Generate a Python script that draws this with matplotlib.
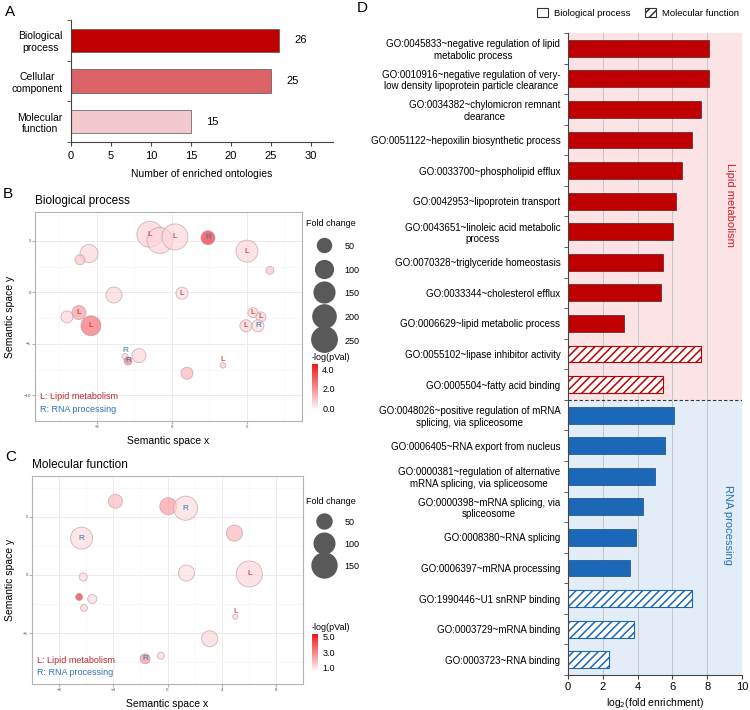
import numpy as np
import matplotlib
matplotlib.use('Agg')
import matplotlib.pyplot as plt
from matplotlib.colors import LinearSegmentedColormap, Normalize
from matplotlib.cm import ScalarMappable
from matplotlib.lines import Line2D
from matplotlib.patches import Patch

plt.rcParams['font.family'] = ['Liberation Sans', 'DejaVu Sans']
plt.rcParams['hatch.linewidth'] = 1.1

# ---- panel A data
a_cats = ['Biological\nprocess', 'Cellular\ncomponent', 'Molecular\nfunction']
a_counts = [26, 25, 15]
a_colors = ['#c00000', '#dc6469', '#f3c9cd']

# ---- panel B data (biological process bubbles)
bp_x = [-1.47, -0.8, 0.2, 2.4, -5.53, -6.13, 5.0, 6.53, -3.87, 0.67, -6.2, -7.0, -5.4,
        5.4, 5.93, 4.93, 5.73, -3.13, -2.93, -2.2, 3.4, 1.0]
bp_y = [5.64, 5.04, 5.38, 5.3, 3.76, 3.16, 4.0, 2.14, -0.26, -0.09, -1.97, -2.39, -3.25,
        -1.97, -2.39, -3.25, -3.25, -6.24, -6.67, -6.15, -7.09, -7.86]
bp_fc = [265, 265, 265, 50, 103, 16, 174, 6, 74, 31, 50, 31, 136, 16, 16, 31, 31, 1, 6, 50, 0.5, 31]
bp_logp = [0.7, 0.6, 0.6, 4.3, 0.6, 1.0, 0.6, 0.9, 0.6, 0.4, 1.9, 0.6, 2.9, 0.7, 0.7, 0.7,
           0.5, 0.6, 2.6, 0.6, 0.8, 1.3]
bp_tag = ['L', '', 'L', 'R', '', '', 'L', '', '', 'L', 'L', '', 'L', 'L', 'L', 'L', 'R',
          'R', 'R', '', 'L', '']
bp_legend = [50, 100, 150, 200, 250]

# ---- panel C data (molecular function bubbles)
mf_x = [-3.84, 0.06, 1.34, -6.34, -6.22, 1.40, -6.52, -5.55, -6.16, 3.11, -1.65, -0.49, 4.94, 6.04, 5.0]
mf_y = [6.34, 5.91, 5.74, 3.17, -0.17, 0.17, -1.89, -2.06, -2.83, -5.48, -7.2, -6.94, 3.6, 0.09, -3.6]
mf_fc = [43, 66, 138, 114, 12, 58, 8.5, 16, 8.5, 58, 20, 8.5, 58, 163, 3.6]
mf_logp = [1.9, 2.6, 1.2, 1.2, 1.2, 1.1, 5.0, 1.2, 1.4, 1.3, 2.8, 1.3, 2.0, 1.3, 1.3]
mf_tag = ['', '', 'R', 'R', '', '', '', '', '', '', 'R', '', '', 'L', 'L']
mf_legend = [50, 100, 150]

# ---- panel D data
d_terms = [
    "GO:0045833~negative regulation of lipid\nmetabolic process",
    "GO:0010916~negative regulation of very-\nlow density lipoprotein particle clearance",
    "GO:0034382~chylomicron remnant\nclearance",
    "GO:0051122~hepoxilin biosynthetic process",
    "GO:0033700~phospholipid efflux",
    "GO:0042953~lipoprotein transport",
    "GO:0043651~linoleic acid metabolic\nprocess",
    "GO:0070328~triglyceride homeostasis",
    "GO:0033344~cholesterol efflux",
    "GO:0006629~lipid metabolic process",
    "GO:0055102~lipase inhibitor activity",
    "GO:0005504~fatty acid binding",
    "GO:0048026~positive regulation of mRNA\nsplicing, via spliceosome",
    "GO:0006405~RNA export from nucleus",
    "GO:0000381~regulation of alternative\nmRNA splicing, via spliceosome",
    "GO:0000398~mRNA splicing, via\nspliceosome",
    "GO:0008380~RNA splicing",
    "GO:0006397~mRNA processing",
    "GO:1990446~U1 snRNP binding",
    "GO:0003729~mRNA binding",
    "GO:0003723~RNA binding",
]
d_vals = [8.13, 8.13, 7.65, 7.13, 6.54, 6.19, 6.02, 5.44, 5.35, 3.21, 7.63, 5.44,
          6.10, 5.60, 4.98, 4.29, 3.88, 3.54, 7.12, 3.77, 2.33]
d_group = ['Lipid metabolism'] * 12 + ['RNA processing'] * 9
d_ont = ['BP'] * 10 + ['MF'] * 2 + ['BP'] * 6 + ['MF'] * 3

RED = '#c00000'
BLUE = '#1b67b8'
TAG_COL = {'L': '#c0272d', 'R': '#2e74b5'}

fig = plt.figure(figsize=(7.5, 7.1), dpi=100)


def rect(l, t, r, b):
    return [l / 750, 1 - b / 710, (r - l) / 750, (b - t) / 710]


# ================= A
axA = fig.add_axes(rect(71, 20, 333, 142))
ya = np.arange(len(a_cats))
axA.barh(ya, a_counts, height=0.58, color=a_colors, edgecolor='#555555', linewidth=0.5)
for y, v in zip(ya, a_counts):
    axA.annotate(str(v), (v, y), xytext=(11, 0), textcoords='offset points',
                 ha='left', va='center', fontsize=8)
axA.set_xlim(0, 32.8)
axA.set_ylim(2.5, -0.5)
axA.set_yticks(ya)
axA.set_yticklabels(a_cats, fontsize=7.5)
for t in axA.get_yticklabels():
    t.set_multialignment('center')
axA.set_yticks(np.arange(-0.5, 3, 1), minor=True)
axA.tick_params(axis='y', which='major', length=0, pad=6)
axA.tick_params(axis='y', which='minor', length=3, color='#444444')
axA.set_xticks(range(0, 31, 5))
axA.tick_params(axis='x', labelsize=8, length=3, color='#444444')
for s in ['top', 'right']:
    axA.spines[s].set_visible(False)
for s in ['left', 'bottom']:
    axA.spines[s].set_color('#444444')
    axA.spines[s].set_linewidth(0.8)
axA.set_xlabel('Number of enriched ontologies', fontsize=7.5, labelpad=6)

# ================= B / C bubble panels
cmap = LinearSegmentedColormap.from_list('wr', ['#fff0f3', '#f0161c'])


def radius_px(fc, a, b):
    return a + b * np.sqrt(np.asarray(fc, dtype=float))


def bubble_panel(ax, xs, ys, fcs, logp, tags, a, b, norm, xlim, ylim,
                 xmaj, ymaj, title):
    r = radius_px(fcs, a, b)
    s = (2 * r * 0.72) ** 2
    ax.scatter(xs, ys, s=s, c=logp, cmap=cmap, norm=norm, alpha=0.65,
               edgecolors='#b8959a', linewidths=0.6, zorder=3)
    for x, y, t, rr in zip(xs, ys, tags, r):
        if t:
            # tiny bubbles carry their tag just above the dot
            dy = 4 if rr < 3.6 else 0
            ax.annotate(t, (x, y), xytext=(0, dy), textcoords='offset points',
                        color=TAG_COL[t], fontsize=6, ha='center', va='center', zorder=4)
    ax.set_xlim(*xlim)
    ax.set_ylim(*ylim)
    ax.set_xticks(xmaj)
    ax.set_yticks(ymaj)
    xm = np.array(xmaj, dtype=float)
    ym = np.array(ymaj, dtype=float)
    ax.set_xticks(np.concatenate([xm - (xm[1] - xm[0]) / 2, [xm[-1] + (xm[1] - xm[0]) / 2]]), minor=True)
    ax.set_yticks(np.concatenate([ym - (ym[1] - ym[0]) / 2, [ym[-1] + (ym[1] - ym[0]) / 2]]), minor=True)
    ax.grid(which='major', color='#ebebeb', linewidth=0.7, zorder=0)
    ax.grid(which='minor', color='#f5f5f5', linewidth=0.5, zorder=0)
    ax.set_axisbelow(True)
    ax.tick_params(which='major', labelsize=3.2, labelcolor='#4d4d4d', length=2,
                   color='#b3b3b3', pad=1)
    ax.tick_params(which='minor', length=0)
    for sp in ax.spines.values():
        sp.set_color('#b3b3b3')
        sp.set_linewidth(0.8)
    ax.set_xlabel('Semantic space x', fontsize=7.5, labelpad=5)
    ax.set_ylabel('Semantic space y', fontsize=7.5, labelpad=6)
    ax.set_title(title, loc='left', fontsize=8.5, pad=6)
    ax.text(0.019, 0.115, 'L: Lipid metabolism', color=TAG_COL['L'], fontsize=6.5,
            transform=ax.transAxes, va='center')
    ax.text(0.019, 0.053, 'R: RNA processing', color=TAG_COL['R'], fontsize=6.5,
            transform=ax.transAxes, va='center')


def size_legend(ax, vals, a, b, top_px, pitch):
    handles = [Line2D([], [], ls='', marker='o', color='#595959',
                      markersize=2 * radius_px(v, a, b) * 0.72) for v in vals]
    ax.legend(handles, [str(v) for v in vals], title='Fold change', loc='upper left',
              bbox_to_anchor=(306 / 750, 1 - top_px / 710), bbox_transform=fig.transFigure,
              frameon=False, fontsize=6.5, title_fontsize=6.5, handlelength=4.0,
              handleheight=1.5, labelspacing=pitch, handletextpad=0.3, borderpad=0,
              borderaxespad=0, alignment='left')


def color_bar(norm, box, ticks):
    cax = fig.add_axes(rect(*box))
    cb = fig.colorbar(ScalarMappable(norm=norm, cmap=cmap), cax=cax, ticks=ticks)
    cb.outline.set_visible(False)
    cb.ax.tick_params(length=0, labelsize=6.5, pad=3)
    cb.ax.set_yticklabels(['%.1f' % t for t in ticks])
    cb.ax.set_title('-log(pVal)', loc='left', fontsize=6.5, pad=3)


axB = fig.add_axes(rect(35, 212, 302, 421))
normB = Normalize(0, 4.6)
bubble_panel(axB, bp_x, bp_y, bp_fc, bp_logp, bp_tag, 2.39, 0.652, normB,
             (-9.13, 8.67), (-10, 7.8), [-5, 0, 5], [-10, -5, 0, 5], 'Biological process')
size_legend(axB, bp_legend, 2.39, 0.652, 219, 1.4)
color_bar(normB, (312, 364, 318, 408), [0.0, 2.0, 4.0])

axC = fig.add_axes(rect(32, 476, 303, 684))
normC = Normalize(0.7, 5.3)
bubble_panel(axC, mf_x, mf_y, mf_fc, mf_logp, mf_tag, 0.68, 0.965, normC,
             (-8.47, 8.05), (-9.37, 8.51), [-8, -4, 0, 4, 8], [-5, 0, 5], 'Molecular function')
size_legend(axC, mf_legend, 0.68, 0.965, 497, 1.2)
color_bar(normC, (312, 634, 318, 670), [1.0, 3.0, 5.0])

# ================= D
axD = fig.add_axes(rect(568, 33, 742, 675))
yd = np.arange(len(d_terms))
n_lip = d_group.count('Lipid metabolism')
axD.axhspan(-0.5, n_lip - 0.5, color='#fbe3e6', zorder=0, lw=0)
axD.axhspan(n_lip - 0.5, len(d_terms) - 0.5, color='#e3edf8', zorder=0, lw=0)
for gx in [2, 4, 6, 8]:
    axD.axvline(gx, color='#c4c4c8', lw=0.7, zorder=1)
for y, v, g, o in zip(yd, d_vals, d_group, d_ont):
    col = RED if g == 'Lipid metabolism' else BLUE
    if o == 'BP':
        axD.barh(y, v, height=0.55, color=col, edgecolor='#5a2020' if col == RED else '#184a80',
                 linewidth=0.5, zorder=2)
    else:
        axD.barh(y, v, height=0.55, facecolor='white', edgecolor=col, hatch='////',
                 linewidth=0.8, zorder=2)
axD.axhline(n_lip - 0.5, color='#333333', ls=(0, (3, 2)), lw=0.8, zorder=3)
axD.set_xlim(0, 10)
axD.set_ylim(len(d_terms) - 0.5, -0.5)
axD.set_yticks(yd)
axD.set_yticklabels(d_terms, fontsize=7)
for t in axD.get_yticklabels():
    t.set_multialignment('center')
axD.set_yticks(np.arange(-0.5, len(d_terms), 1), minor=True)
axD.tick_params(axis='y', which='major', length=0, pad=5.5)
axD.tick_params(axis='y', which='minor', length=3, color='#444444')
axD.set_xticks(range(0, 11, 2))
axD.tick_params(axis='x', labelsize=8, length=3, color='#444444', pad=2)
for s in ['top', 'right']:
    axD.spines[s].set_visible(False)
for s in ['left', 'bottom']:
    axD.spines[s].set_color('#444444')
    axD.spines[s].set_linewidth(0.8)
axD.set_xlabel('log$_2$(fold enrichment)', fontsize=7.5, labelpad=3)
axD.text(9.3, 5.13, 'Lipid metabolism', rotation=270, color='#c8202a', fontsize=8,
         ha='center', va='center', zorder=4)
axD.text(9.2, 15.6, 'RNA processing', rotation=270, color='#2a6fb5', fontsize=8,
         ha='center', va='center', zorder=4)

fig.legend(handles=[Patch(facecolor='white', edgecolor='#333333', lw=0.8, label='Biological process'),
                    Patch(facecolor='white', edgecolor='#333333', lw=0.8, hatch='////',
                          label='Molecular function')],
           ncol=2, loc='upper left', bbox_to_anchor=(537 / 750, 1 - 8 / 710), frameon=False,
           fontsize=6.8, handlelength=1.15, handleheight=1.15, columnspacing=1.6,
           handletextpad=0.6, borderpad=0, borderaxespad=0)

# panel letters
for lab, x, y in [('A', 5, 12), ('B', 3, 194), ('C', 5, 457), ('D', 357, 8)]:
    fig.text(x / 750, 1 - y / 710, lab, fontsize=11, ha='left', va='center')

fig.savefig('out.png', dpi=100)
